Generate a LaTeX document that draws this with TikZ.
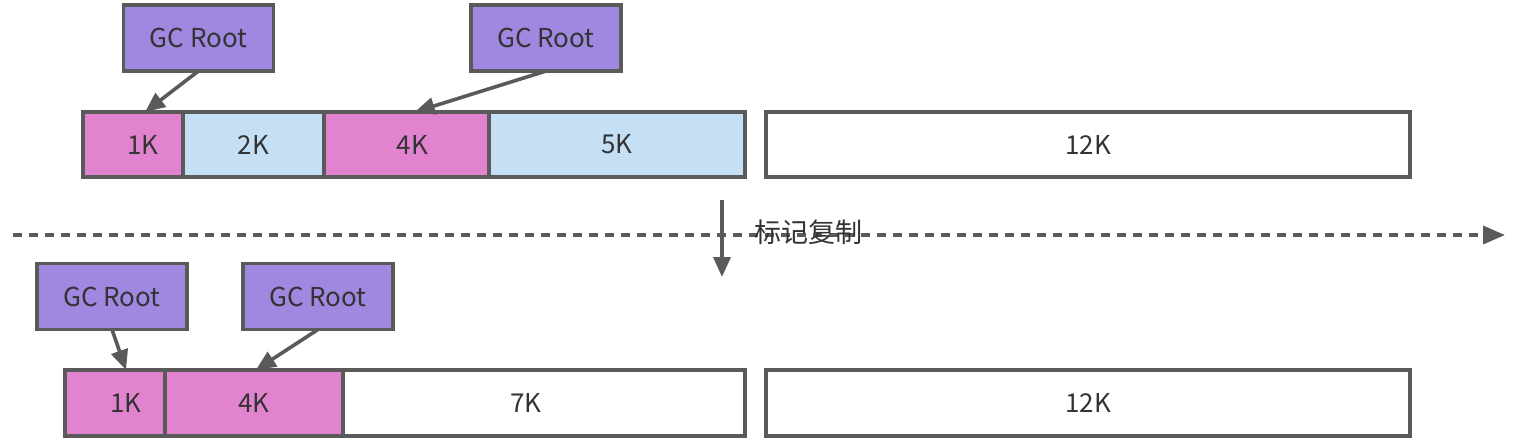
\documentclass[tikz,border=0pt]{standalone}
\usepackage{fontspec}
\setmainfont{Noto Sans CJK SC}
\usetikzlibrary{arrows.meta,calc}
\definecolor{pinkc}{HTML}{E283D0}
\definecolor{bluec}{HTML}{C5E0F4}
\definecolor{purc}{HTML}{A087E0}
\definecolor{edgec}{HTML}{5A5A5A}
\definecolor{txtc}{HTML}{333333}
\tikzset{
  mem/.style={draw=edgec, line width=3.6pt, inner sep=0pt, outer sep=0pt, minimum height=65pt, text=txtc, font=\fontsize{26}{30}\selectfont},
  root/.style={mem, fill=purc, minimum width=150pt, minimum height=66pt},
  arr/.style={draw=edgec, line width=3.6pt, -{Triangle[length=20pt,width=17pt]}},
}
\begin{document}
\begin{tikzpicture}[x=1pt,y=-1pt]
\useasboundingbox (0,0) rectangle (1513,440);
% top row
\node[root] (g1) at (198.5,38) {GC Root};
\node[root] (g2) at (546,38) {GC Root};
\node[mem, fill=pinkc, minimum width=100pt] (t1) at (133,144.5) {\hspace*{20pt}1K};
\node[mem, fill=bluec, minimum width=141pt] (t2) at (253.5,144.5) {2K};
\node[mem, fill=pinkc, minimum width=165pt] (t3) at (406.5,144.5) {\hspace*{12pt}4K};
\node[mem, fill=bluec, minimum width=256pt] (t4) at (617,144.5) {5K};
\node[mem, fill=white, minimum width=644pt] (t5) at (1088,144.5) {12K};
\draw[arr] (g1.south) -- ($(t1.north west)!0.62!(t1.north east)$);
\draw[arr] (g2.south) -- ($(t3.north west)!0.55!(t3.north east)$);
% separator
\coordinate (dl) at (13,235);
\coordinate (dr) at (1505,235);
\draw[draw=edgec, line width=3.6pt, dash pattern=on 9pt off 7pt, -{Triangle[length=22pt,width=18pt]}] (dl) -- (dr);
\coordinate (va) at (722,200);
\coordinate (vb) at (722,277);
\draw[arr] (va) -- (vb);
\node[text=txtc, font=\fontsize{27}{30}\selectfont, inner sep=0pt] (lab) at (808,232) {标记复制};
% bottom row
\node[root] (h1) at (112,296.5) {GC Root};
\node[root] (h2) at (318,296.5) {GC Root};
\node[mem, fill=pinkc, minimum width=100pt, minimum height=66pt] (b1) at (115,403) {\hspace*{22pt}1K};
\node[mem, fill=pinkc, minimum width=178pt, minimum height=66pt] (b2) at (254,403) {4K};
\node[mem, fill=white, minimum width=402pt, minimum height=66pt] (b3) at (544,403) {\hspace*{-36pt}7K};
\node[mem, fill=white, minimum width=644pt, minimum height=66pt] (b4) at (1088,403) {12K};
\draw[arr] (h1.south) -- ($(b1.north west)!0.61!(b1.north east)$);
\draw[arr] (h2.south) -- ($(b2.north west)!0.51!(b2.north east)$);
\end{tikzpicture}
\end{document}
